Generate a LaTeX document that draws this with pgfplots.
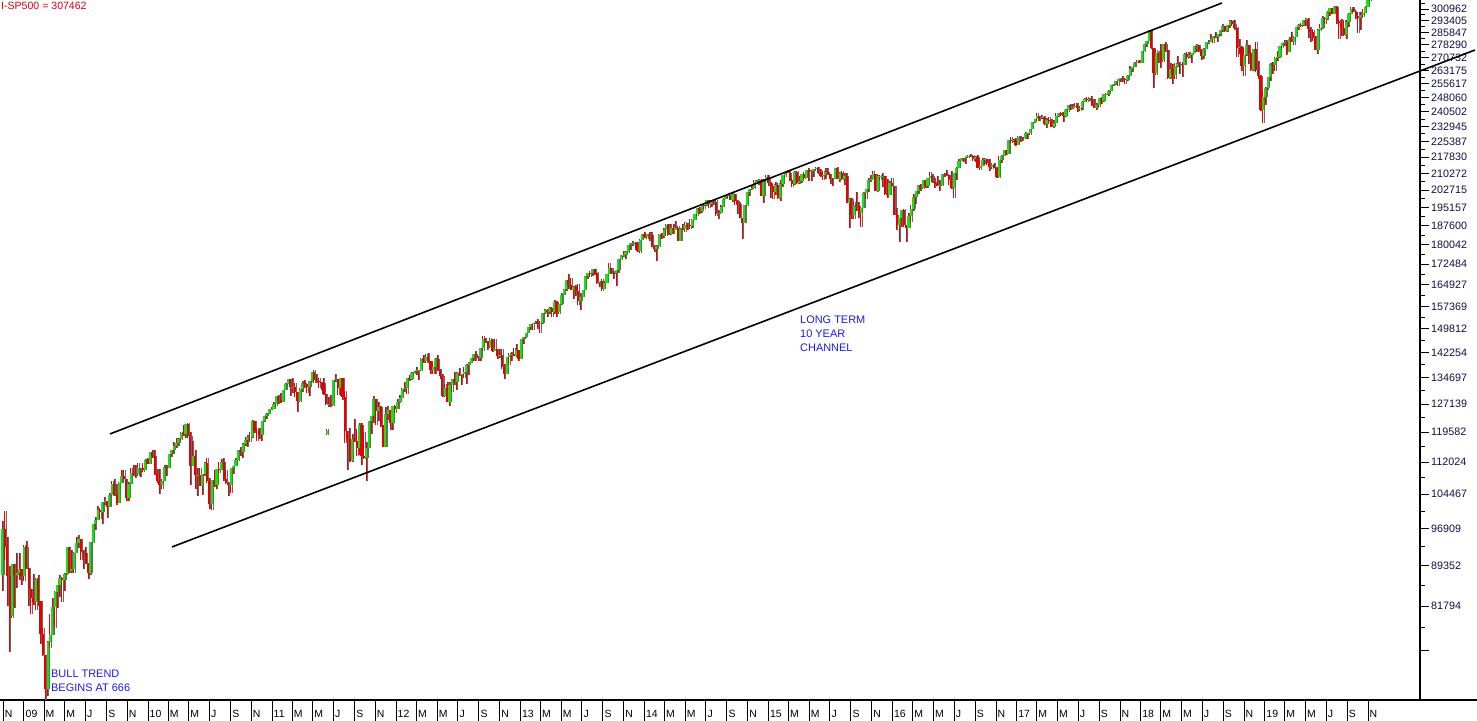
\documentclass[border=0pt]{standalone}
\usepackage{fontspec}
\setmainfont{Liberation Sans}
\usepackage{pgfplots}
\usepackage{pgfplotstable}
\pgfplotsset{compat=1.18}

\definecolor{upgreen}{RGB}{10,235,10}
\definecolor{downred}{RGB}{232,0,0}
\definecolor{shade}{RGB}{105,105,105}
\definecolor{notes}{RGB}{25,25,240}
\definecolor{titlered}{RGB}{215,0,20}
\definecolor{ticktext}{RGB}{15,15,70}

% weekly S&P 500 bars: k = week number (0 = week of 29 Dec 2008), open, high, low, close
\pgfplotstableread{
k o h l c
-9 876 985 845 969
-8 969 1007 904 930
-7 930 951 819 873
-6 873 893 741 800
-5 800 896 798 896
-4 896 896 815 876
-3 876 919 852 879
-2 879 918 867 887
-1 887 888 857 873
0 873 934 864 931
1 931 943 888 890
2 890 890 818 850
3 850 850 804 832
4 832 877 821 826
5 826 870 812 869
6 869 875 818 827
7 827 827 754 770
8 770 780 734 735
9 735 735 667 683
10 683 758 672 756
11 756 804 747 768
12 768 833 768 816
13 816 845 780 843
14 843 857 814 857
15 857 876 835 870
16 870 871 826 866
17 866 880 845 877
18 877 930 876 930
19 930 930 879 883
20 883 925 879 887
21 887 920 880 919
22 919 951 919 940
23 940 956 928 947
24 947 947 904 921
25 921 925 888 918
26 918 931 896 896
27 896 898 869 880
28 880 942 875 941
29 941 979 940 979
30 979 993 965 987
31 987 1018 987 1010
32 1010 1013 990 1005
33 1005 1027 978 1026
34 1026 1039 1020 1029
35 1029 1029 992 1016
36 1016 1048 1016 1042
37 1042 1074 1040 1068
38 1068 1080 1041 1044
39 1044 1069 1020 1025
40 1025 1073 1025 1071
41 1071 1101 1070 1087
42 1087 1101 1075 1079
43 1079 1080 1029 1036
44 1036 1072 1029 1069
45 1069 1105 1069 1093
46 1093 1113 1086 1091
47 1091 1112 1083 1091
48 1091 1119 1086 1106
49 1106 1107 1085 1106
50 1106 1117 1097 1102
51 1102 1127 1102 1126
52 1126 1130 1115 1115
53 1115 1145 1115 1144
54 1144 1150 1131 1136
55 1136 1150 1090 1092
56 1092 1104 1071 1074
57 1074 1104 1044 1066
58 1066 1080 1056 1075
59 1075 1112 1075 1109
60 1109 1112 1086 1105
61 1105 1139 1105 1139
62 1139 1151 1134 1150
63 1150 1170 1141 1160
64 1160 1181 1156 1167
65 1167 1181 1161 1179
66 1179 1195 1175 1194
67 1194 1214 1186 1192
68 1192 1217 1181 1217
69 1217 1220 1181 1187
70 1187 1197 1066 1111
71 1111 1173 1111 1136
72 1136 1150 1056 1088
73 1088 1105 1040 1089
74 1089 1105 1064 1064
75 1064 1092 1043 1092
76 1092 1120 1086 1117
77 1117 1131 1071 1076
78 1076 1082 1011 1023
79 1023 1078 1010 1078
80 1078 1100 1062 1065
81 1065 1103 1056 1103
82 1103 1120 1094 1102
83 1102 1128 1100 1121
84 1121 1130 1076 1079
85 1079 1100 1069 1071
86 1071 1073 1040 1065
87 1065 1105 1048 1105
88 1105 1111 1092 1110
89 1110 1131 1110 1125
90 1125 1149 1122 1149
91 1149 1158 1135 1146
92 1146 1167 1131 1166
93 1166 1184 1160 1176
94 1176 1189 1159 1183
95 1183 1196 1171 1183
96 1183 1227 1180 1225
97 1225 1226 1194 1199
98 1199 1207 1173 1199
99 1199 1206 1177 1189
100 1189 1225 1174 1225
101 1225 1240 1223 1240
102 1240 1247 1232 1244
103 1244 1259 1243 1257
104 1257 1263 1255 1258
105 1258 1277 1257 1272
106 1272 1294 1265 1293
107 1293 1296 1271 1283
108 1283 1302 1275 1276
109 1276 1311 1276 1311
110 1311 1330 1311 1329
111 1329 1344 1325 1343
112 1343 1343 1294 1320
113 1320 1345 1302 1321
114 1321 1331 1291 1304
115 1304 1304 1249 1279
116 1279 1316 1276 1314
117 1314 1338 1306 1332
118 1332 1339 1318 1328
119 1328 1329 1303 1320
120 1320 1338 1294 1338
121 1338 1364 1333 1364
122 1364 1370 1330 1340
123 1340 1359 1332 1338
124 1338 1346 1318 1333
125 1333 1334 1311 1331
126 1331 1346 1296 1300
127 1300 1300 1268 1271
127.4 1191 1203 1189 1198
128 1271 1292 1262 1272
129 1272 1298 1262 1268
130 1268 1340 1266 1340
131 1340 1357 1333 1344
132 1344 1344 1296 1316
133 1316 1347 1295 1345
134 1345 1345 1283 1292
135 1292 1307 1168 1199
136 1199 1199 1101 1179
137 1179 1208 1120 1124
138 1124 1190 1121 1177
139 1177 1230 1170 1174
140 1174 1204 1136 1154
141 1154 1220 1137 1216
142 1216 1220 1114 1136
143 1136 1195 1127 1131
144 1131 1171 1075 1155
145 1155 1224 1155 1224
146 1224 1239 1191 1238
147 1238 1293 1221 1285
148 1285 1285 1215 1253
149 1253 1277 1226 1263
150 1263 1266 1209 1216
151 1216 1216 1158 1159
152 1159 1264 1159 1244
153 1244 1267 1227 1255
154 1255 1255 1202 1219
155 1219 1266 1202 1265
156 1265 1269 1248 1258
157 1258 1285 1258 1278
158 1278 1296 1275 1289
159 1289 1316 1289 1315
160 1315 1333 1306 1316
161 1316 1345 1300 1345
162 1345 1354 1337 1343
163 1343 1363 1340 1362
164 1362 1368 1358 1366
165 1366 1378 1354 1370
166 1370 1371 1340 1371
167 1371 1407 1366 1404
168 1404 1414 1392 1397
169 1397 1419 1391 1408
170 1408 1422 1392 1398
171 1398 1398 1357 1370
172 1370 1392 1358 1379
173 1379 1406 1358 1403
174 1403 1415 1367 1369
175 1369 1372 1343 1353
176 1353 1359 1292 1295
177 1295 1328 1291 1318
178 1318 1334 1278 1278
179 1278 1335 1267 1325
180 1325 1343 1306 1343
181 1343 1364 1324 1335
182 1335 1363 1310 1362
183 1362 1375 1351 1355
184 1355 1357 1326 1357
185 1357 1380 1345 1363
186 1363 1387 1329 1386
187 1386 1394 1354 1391
188 1391 1407 1390 1406
189 1406 1418 1398 1418
190 1418 1426 1398 1411
191 1411 1413 1397 1407
192 1407 1438 1397 1438
193 1438 1475 1429 1466
194 1466 1467 1454 1460
195 1460 1460 1430 1441
196 1441 1470 1438 1461
197 1461 1464 1425 1428
198 1428 1464 1428 1433
199 1433 1434 1403 1411
200 1411 1434 1405 1414
201 1414 1433 1373 1380
202 1380 1388 1343 1359
203 1359 1409 1359 1409
204 1409 1420 1385 1416
205 1416 1424 1398 1418
206 1418 1438 1413 1413
207 1413 1448 1410 1430
208 1430 1431 1398 1402
209 1402 1466 1402 1466
210 1466 1472 1451 1472
211 1472 1486 1467 1486
212 1486 1503 1485 1503
213 1503 1514 1495 1513
214 1513 1518 1495 1518
215 1518 1524 1513 1520
216 1520 1530 1497 1515
217 1515 1525 1485 1518
218 1518 1552 1514 1551
219 1551 1564 1548 1561
220 1561 1563 1538 1556
221 1556 1570 1546 1569
222 1569 1573 1539 1553
223 1553 1597 1548 1588
224 1588 1593 1536 1555
225 1555 1585 1549 1582
226 1582 1619 1577 1614
227 1614 1635 1614 1633
228 1633 1667 1627 1667
229 1667 1687 1636 1650
230 1650 1674 1630 1631
231 1631 1646 1598 1643
232 1643 1648 1608 1626
233 1626 1654 1577 1593
234 1593 1620 1560 1606
235 1606 1632 1605 1632
236 1632 1680 1632 1680
237 1680 1693 1671 1692
238 1692 1698 1676 1691
239 1691 1709 1681 1709
240 1709 1709 1684 1691
241 1691 1696 1654 1656
242 1656 1664 1640 1664
243 1664 1669 1628 1633
244 1633 1663 1633 1655
245 1655 1690 1655 1688
246 1688 1730 1688 1710
247 1710 1711 1687 1692
248 1692 1699 1670 1691
249 1691 1704 1646 1703
250 1703 1745 1692 1744
251 1744 1759 1740 1759
252 1759 1775 1752 1762
253 1762 1774 1746 1771
254 1771 1798 1768 1798
255 1798 1806 1780 1805
256 1805 1813 1797 1806
257 1806 1810 1779 1805
258 1805 1811 1772 1775
259 1775 1823 1767 1818
260 1818 1844 1818 1841
261 1841 1849 1827 1831
262 1831 1843 1823 1842
263 1842 1850 1815 1838
264 1838 1850 1790 1790
265 1790 1798 1770 1783
266 1783 1798 1738 1797
267 1797 1841 1791 1838
268 1838 1847 1823 1836
269 1836 1867 1825 1859
270 1859 1883 1834 1878
271 1878 1882 1839 1841
272 1841 1884 1839 1866
273 1866 1883 1842 1858
274 1858 1897 1858 1865
275 1865 1873 1815 1815
276 1815 1865 1814 1864
277 1864 1884 1860 1863
278 1863 1891 1851 1881
279 1881 1889 1859 1878
280 1878 1902 1862 1877
281 1877 1901 1868 1900
282 1900 1924 1900 1924
283 1924 1949 1915 1949
284 1949 1955 1925 1936
285 1936 1963 1930 1963
286 1963 1968 1944 1961
287 1961 1985 1958 1985
288 1985 1985 1952 1967
289 1967 1983 1955 1978
290 1978 1991 1965 1978
291 1978 1984 1916 1925
292 1925 1943 1904 1931
293 1931 1964 1928 1955
294 1955 1992 1955 1988
295 1988 2006 1988 2003
296 2003 2012 1992 2008
297 2008 2008 1983 1985
298 1985 2019 1978 2010
299 2010 2010 1965 1982
300 1982 1986 1926 1968
301 1968 1977 1906 1906
302 1906 1906 1821 1887
303 1887 1965 1886 1965
304 1965 2018 1960 2018
305 2018 2034 2001 2032
306 2032 2046 2030 2039
307 2039 2071 2034 2064
308 2064 2075 2064 2068
309 2068 2079 2049 2075
310 2075 2076 2002 2003
311 2003 2077 1973 2071
312 2071 2094 2069 2088
313 2088 2094 2047 2058
314 2058 2064 1992 2045
315 2045 2054 1988 2019
316 2019 2064 2005 2051
317 2051 2058 1990 1995
318 1995 2072 1981 2055
319 2055 2097 2041 2097
320 2097 2110 2085 2110
321 2110 2120 2103 2104
322 2104 2118 2067 2071
323 2071 2082 2040 2053
324 2053 2114 2050 2108
325 2108 2114 2055 2061
326 2061 2089 2056 2067
327 2067 2102 2061 2102
328 2102 2111 2079 2081
329 2081 2120 2080 2117
330 2117 2126 2067 2108
331 2108 2117 2067 2116
332 2116 2123 2085 2123
333 2123 2134 2120 2126
334 2126 2133 2099 2107
335 2107 2121 2085 2092
336 2092 2115 2072 2095
337 2095 2126 2079 2110
338 2110 2129 2096 2102
339 2102 2102 2056 2077
340 2077 2082 2044 2077
341 2077 2129 2077 2127
342 2127 2132 2076 2079
343 2079 2110 2063 2104
344 2104 2113 2073 2078
345 2078 2105 2052 2092
346 2092 2103 1970 1971
347 1971 1993 1867 1989
348 1989 1993 1903 1921
349 1921 1976 1903 1961
350 1961 2021 1938 1958
351 1958 1974 1908 1931
352 1931 1952 1872 1951
353 1951 2020 1951 2015
354 2015 2034 1990 2033
355 2033 2080 2018 2075
356 2075 2094 2066 2079
357 2079 2116 2077 2100
358 2100 2100 2022 2023
359 2023 2097 2019 2089
360 2089 2095 2073 2090
361 2090 2104 2043 2092
362 2092 2093 2008 2012
363 2012 2076 1993 2006
364 2006 2068 2006 2061
365 2061 2082 2043 2044
366 2044 2044 1922 1922
367 1922 1950 1857 1880
368 1880 1908 1812 1907
369 1907 1940 1872 1940
370 1940 1947 1872 1880
371 1880 1881 1810 1865
372 1865 1930 1865 1918
373 1918 1963 1891 1948
374 1948 2009 1937 1999
375 1999 2022 1969 2022
376 2022 2052 2010 2049
377 2049 2056 2023 2035
378 2035 2075 2033 2073
379 2073 2074 2039 2048
380 2048 2084 2039 2081
381 2081 2111 2078 2092
382 2092 2099 2060 2065
383 2065 2084 2039 2057
384 2057 2090 2044 2047
385 2047 2071 2025 2052
386 2052 2100 2047 2099
387 2099 2106 2085 2099
388 2099 2120 2089 2096
389 2096 2096 2051 2071
390 2071 2113 2032 2037
391 2037 2103 1992 2103
392 2103 2131 2074 2130
393 2130 2169 2130 2162
394 2162 2175 2159 2175
395 2175 2177 2155 2174
396 2174 2183 2147 2183
397 2183 2188 2175 2184
398 2184 2194 2179 2184
399 2184 2187 2160 2169
400 2169 2184 2157 2180
401 2180 2187 2127 2128
402 2128 2163 2120 2139
403 2139 2175 2139 2165
404 2165 2175 2145 2168
405 2168 2169 2142 2153
406 2153 2169 2114 2133
407 2133 2148 2125 2141
408 2141 2152 2126 2126
409 2126 2131 2084 2085
410 2085 2182 2084 2164
411 2164 2189 2151 2182
412 2182 2214 2182 2213
413 2213 2214 2187 2192
414 2192 2261 2192 2260
415 2260 2278 2248 2258
416 2258 2268 2254 2264
417 2264 2273 2234 2239
418 2239 2282 2238 2277
419 2277 2280 2254 2275
420 2275 2278 2259 2271
421 2271 2301 2267 2295
422 2295 2297 2267 2297
423 2297 2319 2288 2316
424 2316 2352 2316 2351
425 2351 2368 2348 2367
426 2367 2401 2360 2383
427 2383 2383 2355 2373
428 2373 2391 2366 2378
429 2378 2381 2337 2344
430 2344 2371 2322 2363
431 2363 2379 2344 2355
432 2355 2366 2328 2329
433 2329 2362 2322 2349
434 2349 2398 2345 2384
435 2384 2400 2378 2399
436 2399 2404 2381 2391
437 2391 2405 2353 2382
438 2382 2418 2380 2416
439 2416 2441 2403 2439
440 2439 2446 2415 2432
441 2432 2446 2418 2433
442 2433 2454 2430 2438
443 2438 2450 2405 2423
444 2423 2435 2407 2425
445 2425 2464 2417 2459
446 2459 2479 2457 2473
447 2473 2484 2459 2472
448 2472 2480 2463 2476
449 2476 2491 2437 2441
450 2441 2474 2425 2426
451 2426 2454 2417 2443
452 2443 2480 2428 2477
453 2477 2485 2447 2461
454 2461 2500 2459 2500
455 2500 2508 2496 2502
456 2502 2520 2488 2519
457 2519 2552 2519 2549
458 2549 2557 2543 2553
459 2553 2575 2551 2575
460 2575 2582 2544 2581
461 2581 2588 2566 2588
462 2588 2598 2566 2582
463 2582 2590 2557 2579
464 2579 2605 2575 2603
465 2603 2657 2600 2642
466 2642 2652 2624 2652
467 2652 2679 2652 2676
468 2676 2695 2676 2683
469 2683 2692 2673 2674
470 2674 2746 2674 2744
471 2744 2787 2742 2786
472 2786 2810 2768 2810
473 2810 2873 2808 2873
474 2873 2873 2759 2762
475 2762 2763 2533 2620
476 2620 2754 2608 2732
477 2732 2747 2676 2747
478 2747 2789 2647 2691
479 2691 2787 2682 2786
480 2786 2802 2742 2752
481 2752 2752 2585 2588
482 2588 2674 2586 2641
483 2641 2672 2553 2604
484 2604 2674 2586 2656
485 2656 2717 2654 2670
486 2670 2683 2612 2670
487 2670 2682 2594 2663
488 2663 2733 2662 2728
489 2728 2743 2701 2713
490 2713 2742 2707 2721
491 2721 2736 2676 2735
492 2735 2779 2735 2779
493 2779 2790 2743 2780
494 2780 2784 2743 2755
495 2755 2760 2691 2718
496 2718 2763 2699 2760
497 2760 2804 2757 2801
498 2801 2816 2789 2802
499 2802 2848 2801 2819
500 2819 2841 2792 2840
501 2840 2863 2826 2833
502 2833 2851 2802 2850
503 2850 2876 2835 2875
504 2875 2916 2863 2902
505 2902 2903 2864 2872
506 2872 2906 2864 2905
507 2905 2941 2886 2930
508 2930 2940 2903 2914
509 2914 2939 2874 2886
510 2886 2894 2710 2767
511 2767 2817 2729 2768
512 2768 2778 2628 2658
513 2658 2767 2603 2723
514 2723 2816 2717 2781
515 2781 2781 2671 2736
516 2736 2747 2631 2633
517 2633 2760 2631 2760
518 2760 2800 2621 2633
519 2633 2686 2583 2600
520 2600 2607 2409 2417
521 2417 2520 2347 2486
522 2486 2539 2443 2532
523 2532 2597 2524 2596
524 2596 2675 2571 2671
525 2671 2681 2612 2665
526 2665 2708 2631 2707
527 2707 2744 2687 2708
528 2708 2776 2704 2776
529 2776 2795 2766 2793
530 2793 2813 2775 2804
531 2804 2816 2722 2743
532 2743 2830 2739 2822
533 2822 2860 2800 2800
534 2800 2836 2785 2834
535 2834 2893 2830 2893
536 2893 2910 2874 2907
537 2907 2917 2893 2905
538 2905 2940 2898 2940
539 2940 2954 2900 2946
540 2946 2950 2825 2881
541 2881 2892 2801 2860
542 2860 2876 2805 2826
543 2826 2841 2750 2752
544 2752 2884 2728 2873
545 2873 2911 2866 2887
546 2887 2964 2883 2950
547 2950 2959 2912 2942
548 2942 2996 2940 2990
549 2990 3014 2966 3014
550 3014 3018 2975 2977
551 2977 3028 2977 3026
552 3026 3028 2914 2932
553 2932 2939 2822 2919
554 2919 2943 2840 2889
555 2889 2939 2835 2847
556 2847 2940 2822 2926
557 2926 2985 2891 2979
558 2979 3021 2979 3007
559 3007 3022 2990 2992
560 2992 2999 2946 2962
561 2962 2992 2856 2952
562 2952 2993 2874 2970
563 2970 3008 2957 2986
564 2986 3027 2984 3023
565 3023 3067 3021 3067
566 3067 3084 3065 3075
}\spx

\pgfplotsset{
  candle/.style 2 args={draw=none, mark=none, forget plot,
    error bars/y dir=plus, error bars/y explicit, error bars/error mark=none,
    error bars/error bar style={draw=#1, line width=#2}},
  isup/.style={restrict expr to domain={\thisrow{c}-\thisrow{o}}{0:5000}},
  isdown/.style={restrict expr to domain={\thisrow{c}-\thisrow{o}}{-5000:-0.5}},
}

\begin{document}
\begin{tikzpicture}
\useasboundingbox (0,0) rectangle (1477bp,721bp);
\begin{axis}[
  at={(0,21bp)}, anchor=south west,
  scale only axis, width=1420bp, height=700bp,
  xmin=-10.02, xmax=587.07,
  ymode=log, ymin=666.79, ymax=3070,
  clip=false,
  axis x line*=bottom, axis y line*=right,
  x axis line style={line width=1.6bp},
  y axis line style={line width=1.2bp},
  xtick={-8.643,0.071,8.5,17.214,25.929,34.786,43.5,52.214,60.643,69.357,78.071,86.929,95.643,104.357,112.786,121.5,130.214,139.071,147.786,156.5,165.071,173.786,182.5,191.357,200.071,208.786,217.214,225.929,234.643,243.5,252.214,260.929,269.357,278.071,286.786,295.643,304.357,313.071,321.5,330.214,338.929,347.786,356.5,365.214,373.786,382.5,391.214,400.071,408.786,417.5,425.929,434.643,443.357,452.214,460.929,469.643,478.071,486.786,495.5,504.357,513.071,521.786,530.214,538.929,547.643,556.5,565.214},
  xticklabels={N,09,M,M,J,S,N,10,M,M,J,S,N,11,M,M,J,S,N,12,M,M,J,S,N,13,M,M,J,S,N,14,M,M,J,S,N,15,M,M,J,S,N,16,M,M,J,S,N,17,M,M,J,S,N,18,M,M,J,S,N,19,M,M,J,S,N},
  ytick={742.365,817.94,893.515,969.09,1044.665,1120.24,1195.815,1271.39,1346.965,1422.54,1498.115,1573.69,1649.265,1724.84,1800.415,1875.99,1951.565,2027.14,2102.715,2178.29,2253.865,2329.44,2405.015,2480.59,2556.165,2631.74,2707.315,2782.89,2858.465,2934.04,3009.615},
  yticklabels={{},81794,89352,96909,104467,112024,119582,127139,134697,142254,149812,157369,164927,172484,180042,187600,195157,202715,210272,217830,225387,232945,240502,248060,255617,263175,270732,278290,285847,293405,300962},
  minor ytick={780.15,855.73,931.30,1006.88,1082.45,1158.03,1233.60,1309.18,1384.75,1460.33,1535.90,1611.48,1687.05,1762.63,1838.20,1913.78,1989.35,2064.93,2140.50,2216.08,2291.65,2367.23,2442.80,2518.38,2593.95,2669.53,2745.10,2820.68,2896.25,2971.83,3047.40},
  tick align=outside,
  major tick length=9bp, minor tick length=5bp,
  xtick style={black, line width=1bp, /pgfplots/major tick length=21bp},
  ytick style={black, line width=1bp},
  xticklabel style={anchor=west, inner xsep=1.5bp, yshift=-5bp, font=\fontsize{10.5}{12}\selectfont},
  yticklabel style={anchor=west, inner xsep=2bp, text=ticktext, font=\fontsize{10.8}{12}\selectfont},
]
% grey shadow to the right of each bar
\addplot[candle={shade}{1bp}, error bars/error bar style={xshift=1.3bp}]
  table[x=k, y=l, y error plus expr=\thisrow{h}-\thisrow{l}] {\spx};
\addplot[candle={shade}{2bp}, isup, error bars/error bar style={xshift=1.3bp}]
  table[x=k, y=o, y error plus expr=\thisrow{c}-\thisrow{o}] {\spx};
\addplot[candle={shade}{2bp}, isdown, error bars/error bar style={xshift=1.3bp}]
  table[x=k, y=c, y error plus expr=\thisrow{o}-\thisrow{c}] {\spx};
% wicks (high to low)
\addplot[candle={downred}{1bp}]
  table[x=k, y=l, y error plus expr=\thisrow{h}-\thisrow{l}] {\spx};
% bodies (open to close)
\addplot[candle={upgreen}{2.1bp}, isup]
  table[x=k, y=o, y error plus expr=\thisrow{c}-\thisrow{o}] {\spx};
\addplot[candle={downred}{2.1bp}, isdown]
  table[x=k, y=c, y error plus expr=\thisrow{o}-\thisrow{c}] {\spx};

% channel lines
\addplot[black, line width=1.6bp, no marks] coordinates {(36.23,1191.2) (503.81,3049.8)};
\addplot[black, line width=1.6bp, no marks] coordinates {(62.30,930.9) (610.20,2752.5)};

\node[anchor=north west, inner sep=0pt, xshift=1bp, yshift=-1.5bp, text=titlered,
  font=\fontsize{10.6}{12}\selectfont] at (rel axis cs:0,1) {I-SP500 = 307462};
\node[anchor=north west, inner sep=0pt, align=left, text=notes,
  font=\fontsize{11}{14}\selectfont] at (axis cs:11.42,711.9) {BULL TREND\\BEGINS AT 666};
\node[anchor=north west, inner sep=0pt, align=left, text=notes,
  font=\fontsize{11}{14}\selectfont] at (axis cs:326.37,1540.8) {LONG TERM\\10 YEAR\\CHANNEL};
\end{axis}
\draw[line width=1.6bp] (1420bp,21bp) -- (1477bp,21bp);
\end{tikzpicture}
\end{document}
